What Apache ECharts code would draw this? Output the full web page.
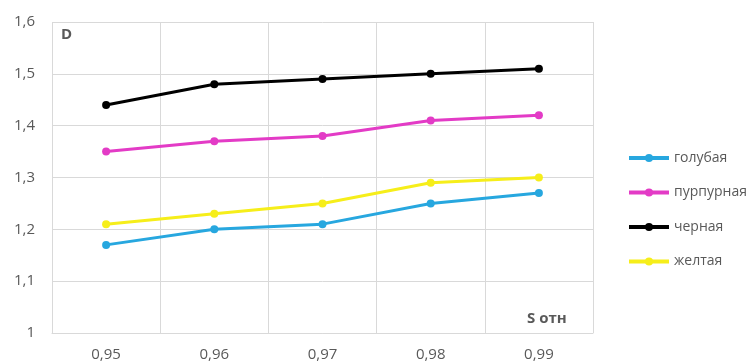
<!DOCTYPE html>
<html><head><meta charset="utf-8">
<script src="https://cdn.jsdelivr.net/npm/echarts@6/dist/echarts.min.js"></script>
<style>html,body{margin:0;padding:0;background:#fff}#c{width:755px;height:363px}</style>
</head><body><div id="c"></div>
<script>
const categories = ['0,95','0,96','0,97','0,98','0,99'];
const blue = [1.17, 1.20, 1.21, 1.25, 1.27];
const magenta = [1.35, 1.37, 1.38, 1.41, 1.42];
const black = [1.44, 1.48, 1.49, 1.50, 1.51];
const yellow = [1.21, 1.23, 1.25, 1.29, 1.30];
const seriesNames = ['голубая','пурпурная','черная','желтая'];
const colors = ['#27A7DF','#E33BC6','#000000','#F6EE1A'];
const dataSets = [blue, magenta, black, yellow];

const chart = echarts.init(document.getElementById('c'));
const font = '"Open Sans", sans-serif';
chart.setOption({
  animation: false,
  grid: {left: 52, top: 22, width: 541, height: 311, containLabel: false},
  xAxis: {
    type: 'category', data: categories, boundaryGap: true,
    axisLine: {show: true, lineStyle: {color: '#d9d9d9', width: 1}},
    axisTick: {show: false},
    axisLabel: {color: '#595959', fontSize: 15, fontFamily: font, margin: 14},
    splitLine: {show: true, lineStyle: {color: '#d9d9d9', width: 1}}
  },
  yAxis: {
    type: 'value', min: 1, max: 1.6, interval: 0.1,
    axisLine: {show: false}, axisTick: {show: false},
    axisLabel: {color: '#595959', fontSize: 15, fontFamily: font, margin: 17,
      formatter: v => String(Math.round(v*10)/10).replace('.', ',')},
    splitLine: {show: true, lineStyle: {color: '#d9d9d9', width: 1}}
  },
  legend: {
    orient: 'vertical', left: 622, top: 144, itemGap: 16.5,
    itemWidth: 40, itemHeight: 10,
    lineStyle: {width: 4},
    textStyle: {color: '#595959', fontSize: 14, fontFamily: font, lineHeight: 18},
    data: seriesNames
  },
  graphic: [
    {type: 'text', left: 61, top: 27, style: {text: 'D', fill: '#595959', font: 'bold 15px ' + font}},
    {type: 'text', left: 527, top: 311, style: {text: 'S отн', fill: '#595959', font: 'bold 15px ' + font}}
  ],
  series: dataSets.map((d, i) => ({
    name: seriesNames[i], type: 'line', data: d,
    color: colors[i],
    symbol: 'circle', symbolSize: 8,
    lineStyle: {width: 3, color: colors[i]},
    itemStyle: {color: colors[i]}
  }))
});
</script></body></html>
